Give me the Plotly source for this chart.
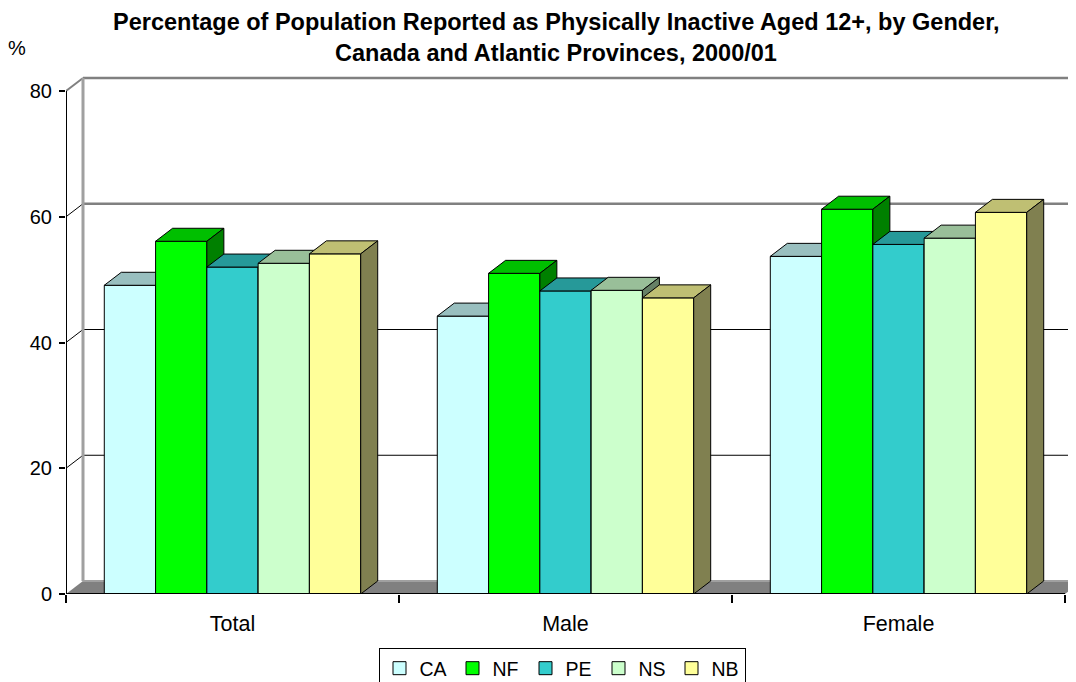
# plot.py

import plotly.graph_objects as go

categories = ["Total", "Male", "Female"]
series_names = ["CA", "NF", "PE", "NS", "NB"]
ca = [49.1, 44.2, 53.7]
nf = [56.1, 51.0, 61.2]
pe = [52.0, 48.2, 55.6]
ns = [52.6, 48.3, 56.6]
nb = [54.1, 47.1, 60.7]
y_ticks = [0, 20, 40, 60, 80]

front_colors = ["#CCFFFF", "#00FF00", "#33CCCC", "#CCFFCC", "#FFFF99"]
top_colors = ["#99BFBF", "#00BF00", "#269999", "#99BF99", "#BFBF73"]
side_colors = ["#668080", "#008000", "#1A6666", "#668066", "#808050"]

series = [ca, nf, pe, ns, nb]

# page body has an 8px margin, so the figure is shifted by that much
OFF = 8
W, H = 1076 - OFF, 682 - OFF

# fake 3d depth, in data units
DX = 17 / 333
DY = 13 / 6.2875
BAR_W = 0.154
X_MAX = -0.5 + 1010 / 333
Y_MAX = 80 + DY + 0.32


def face(fig, xs, ys, color):
    fig.add_trace(go.Scatter(x=xs, y=ys, mode="lines", fill="toself",
                             fillcolor=color, line=dict(color="black", width=1),
                             hoverinfo="skip", showlegend=False))


fig = go.Figure()

# bars, drawn left to right so nearer faces cover farther ones
for ci in range(len(categories)):
    for si, vals in enumerate(series):
        v = vals[ci]
        x0 = ci - 2.5 * BAR_W + si * BAR_W
        x1 = x0 + BAR_W
        face(fig, [x0, x1, x1, x0, x0], [0, 0, v, v, 0], front_colors[si])
        face(fig, [x0, x1, x1 + DX, x0 + DX, x0], [v, v, v + DY, v + DY, v], top_colors[si])
        face(fig, [x1, x1 + DX, x1 + DX, x1, x1], [0, DY, v + DY, v, 0], side_colors[si])

# legend entries
for si, name in enumerate(series_names):
    fig.add_trace(go.Scatter(x=[None], y=[None], mode="markers", name=name,
                             marker=dict(symbol="square", size=13, color=front_colors[si],
                                         line=dict(color="black", width=1))))

shapes = []
# floor
shapes.append(dict(type="path", xref="x", yref="y", layer="below",
                   path=f"M -0.5 0 L 2.5 0 L {2.5 + DX} {DY} L {-0.5 + DX} {DY} Z",
                   fillcolor="#808080", line=dict(width=0)))
shapes.append(dict(type="line", xref="x", yref="y", layer="below",
                   x0=-0.5 + DX, x1=X_MAX, y0=DY, y1=DY, line=dict(color="#A0A0A0", width=2)))
# back wall gridlines and side wall diagonals
for t in y_ticks[1:]:
    col = "black" if t < 60 else "#808080"
    w = 1 if t < 60 else 2.5
    shapes.append(dict(type="line", xref="x", yref="y", layer="below",
                       x0=-0.5 + DX, x1=X_MAX, y0=t + DY, y1=t + DY, line=dict(color=col, width=w)))
    shapes.append(dict(type="line", xref="x", yref="y", layer="below",
                       x0=-0.5, x1=-0.5 + DX, y0=t, y1=t + DY,
                       line=dict(color="black" if t < 80 else "#808080", width=1 if t < 80 else 2)))
shapes.append(dict(type="line", xref="x", yref="y", layer="below",
                   x0=-0.5 + DX, x1=-0.5 + DX, y0=DY, y1=80 + DY, line=dict(color="#A0A0A0", width=3)))
# front axes
shapes.append(dict(type="line", xref="x", yref="y", x0=-0.5, x1=-0.5, y0=0, y1=80,
                   line=dict(color="black", width=2)))
shapes.append(dict(type="line", xref="x", yref="y", x0=-0.5, x1=2.5, y0=0, y1=0,
                   line=dict(color="black", width=2)))

fig.update_layout(
    width=W, height=H,
    margin=dict(l=66 - OFF, r=0, t=76 - OFF, b=H - (594 - OFF), autoexpand=False),
    plot_bgcolor="white", paper_bgcolor="white",
    font=dict(family="Arial, Liberation Sans, sans-serif", color="black"),
    shapes=shapes,
    showlegend=True,
    legend=dict(orientation="h", xref="container", x=(562 - OFF) / W, xanchor="center",
                yref="container", y=1 - (648 - OFF) / H, yanchor="top",
                font=dict(size=19.5), bordercolor="black", borderwidth=1,
                itemwidth=30, tracegroupgap=0, entrywidth=28, entrywidthmode="pixels"),
    xaxis=dict(range=[-0.5, X_MAX], showgrid=False, zeroline=False, showline=False,
               automargin=False,
               tickvals=[0, 1, 2], ticktext=categories, ticks="outside", ticklen=10,
               tickcolor="rgba(0,0,0,0)", tickfont=dict(size=21.5),
               minor=dict(tick0=0.5, dtick=1, ticks="outside", ticklen=8,
                          tickwidth=2, tickcolor="black")),
    yaxis=dict(range=[0, Y_MAX], showgrid=False, zeroline=False, showline=False,
               automargin=False,
               tickvals=y_ticks, ticks="outside", ticklen=6, tickwidth=2,
               tickcolor="black", tickfont=dict(size=20), ticklabelstandoff=3),
    annotations=[
        dict(text="<b>Percentage of Population Reported as Physically Inactive Aged 12+, by Gender,</b>",
             xref="paper", yref="paper", x=(556 - 66) / 1010, y=(594 - 22) / 518, showarrow=False,
             xanchor="center", yanchor="middle", font=dict(size=23.5)),
        dict(text="<b>Canada and Atlantic Provinces, 2000/01</b>",
             xref="paper", yref="paper", x=(556 - 66) / 1010, y=(594 - 53) / 518, showarrow=False,
             xanchor="center", yanchor="middle", font=dict(size=23.5)),
        dict(text="%", xref="paper", yref="paper", x=(17 - 66) / 1010, y=(594 - 48) / 518,
             showarrow=False, xanchor="center", yanchor="middle", font=dict(size=20)),
    ],
)

fig.write_html("out.html")
